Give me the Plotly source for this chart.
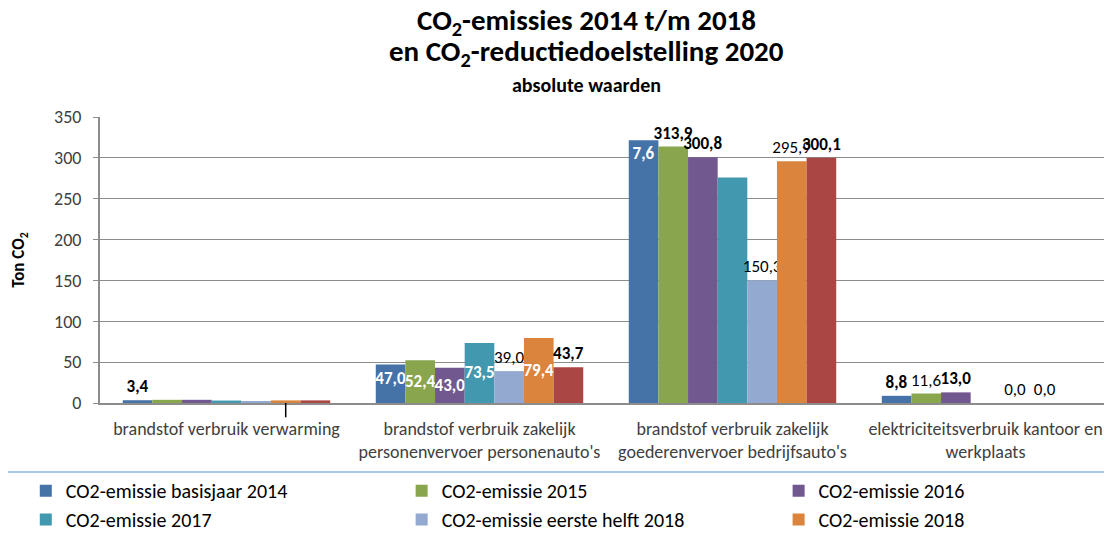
import plotly.graph_objects as go

categories = [
    "brandstof verbruik verwarming",
    "brandstof verbruik zakelijk<br>personenvervoer personenauto's",
    "brandstof verbruik zakelijk<br>goederenvervoer bedrijfsauto's",
    "elektriciteitsverbruik kantoor en<br>werkplaats",
]

series_names = [
    "CO2-emissie basisjaar 2014",
    "CO2-emissie 2015",
    "CO2-emissie 2016",
    "CO2-emissie 2017",
    "CO2-emissie eerste helft 2018",
    "CO2-emissie 2018",
    "CO2-reductiedoelstelling 2020",
]

emissie_2014 = [3.4, 47.0, 321.6, 8.8]
emissie_2015 = [3.9, 52.4, 313.9, 11.6]
emissie_2016 = [3.9, 43.0, 300.8, 13.0]
emissie_2017 = [3.0, 73.5, 276.0, None]
emissie_h1_2018 = [1.5, 39.0, 150.3, 0.0]
emissie_2018 = [3.2, 79.4, 295.9, 0.0]
doel_2020 = [3.2, 43.7, 300.1, None]

# labels as printed on the chart ("" = no label)
labels_2014 = ["3,4", "47,0", "7,6", "8,8"]
labels_2015 = ["", "52,4", "313,9", "11,6"]
labels_2016 = ["", "43,0", "300,8", "13,0"]
labels_2017 = ["", "73,5", "", ""]
labels_h1_2018 = ["", "39,0", "150,3", "0,0"]
labels_2018 = ["", "79,4", "295,9", "0,0"]
labels_2020 = ["", "43,7", "300,1", ""]

y_ticks = [0, 50, 100, 150, 200, 250, 300, 350]

values = [emissie_2014, emissie_2015, emissie_2016, emissie_2017,
          emissie_h1_2018, emissie_2018, doel_2020]
labels = [labels_2014, labels_2015, labels_2016, labels_2017,
          labels_h1_2018, labels_2018, labels_2020]

colors = ["#4572A7", "#89A54E", "#71588F", "#4198AF", "#93A9CF", "#DB843D", "#AA4643"]

# label style per point: bi = bold inside (white), bo = bold outside, no = normal outside
styles = [
    ["bo", "bi", "bi", "bo"],
    ["", "bi", "bo", "no"],
    ["", "bi", "bo", "bo"],
    ["", "bi", "", ""],
    ["", "no", "no", "no"],
    ["", "bi", "no", "no"],
    ["", "bo", "bo", ""],
]
anchors = ["end", "middle", "middle", "middle", "middle", "middle", "middle"]

FONT = "Carlito, Lato, sans-serif"

fig = go.Figure()
for i, (name, vals, labs, sty, col, anc) in enumerate(
        zip(series_names, values, labels, styles, colors, anchors)):
    text = []
    pos = []
    tcol = []
    for lab, s in zip(labs, sty):
        if s.startswith("b") and lab:
            text.append("<b>" + lab + "</b>")
        else:
            text.append(lab)
        pos.append("inside" if s == "bi" else "outside")
        tcol.append("white" if s == "bi" else "black")
    fig.add_trace(go.Bar(
        name=name,
        x=categories,
        y=vals,
        marker_color=col,
        marker_line_width=0,
        text=text,
        textposition=pos,
        textfont=dict(color=tcol, size=17, family=FONT),
        insidetextanchor=anc,
        textangle=0,
        constraintext="none",
        cliponaxis=False,
        legend="legend" if i == 0 else "legend%d" % (i + 1),
        showlegend=i < 6,
    ))

# one small legend per entry: 3 columns x 2 rows (last series is not shown)
legend_cols = [0.016, 0.354, 0.693]
legend_rows = [0.131, 0.077]
legend_layout = {}
for i in range(6):
    key = "legend" if i == 0 else "legend%d" % (i + 1)
    legend_layout[key] = dict(
        orientation="h",
        xref="container",
        yref="container",
        x=legend_cols[i % 3],
        xanchor="left",
        y=legend_rows[i // 3],
        yanchor="top",
        font=dict(size=20, color="black", family=FONT),
        bgcolor="rgba(0,0,0,0)",
        visible=True,
    )

fig.update_layout(
    width=1112,
    height=533,
    autosize=False,
    showlegend=True,
    barmode="group",
    bargap=0.18,
    bargroupgap=0,
    plot_bgcolor="white",
    paper_bgcolor="white",
    font=dict(family=FONT, color="#404040", size=18),
    margin=dict(l=89, r=8, t=109, b=138),
    **legend_layout,
)

# titles
title_lines = [
    ("<b>CO<sub>2</sub>-emissies 2014 t/m 2018</b>", 1.333, 29),
    ("<b>en CO<sub>2</sub>-reductiedoelstelling 2020</b>", 1.224, 29),
    ("<b>absolute waarden</b>", 1.112, 20),
]
for txt, ypos, size in title_lines:
    fig.add_annotation(text=txt, xref="paper", yref="paper", x=0.481, y=ypos,
                       xanchor="center", yanchor="middle", showarrow=False,
                       font=dict(size=size, color="black", family=FONT))

fig.update_yaxes(
    range=[0, 350],
    tickvals=y_ticks,
    showgrid=True,
    gridcolor="#8c8c8c",
    gridwidth=1,
    showline=True,
    linecolor="#8c8c8c",
    linewidth=2,
    ticks="outside",
    ticklen=5,
    tickcolor="#8c8c8c",
    ticklabelstandoff=8,
    tickfont=dict(size=18, color="#404040"),
    zeroline=False,
    title=dict(text="<b>Ton CO<sub>2</sub></b>", font=dict(size=17, color="black"), standoff=26),
)
fig.update_xaxes(
    showline=True,
    linecolor="#8c8c8c",
    linewidth=2,
    ticks="",
    ticklabelstandoff=8,
    tickfont=dict(size=18, color="#404040"),
)

# separator line above the legend
fig.add_shape(type="line", xref="paper", yref="paper", x0=-0.1, x1=1.01, y0=-0.241, y1=-0.241,
              line=dict(color="#8EB4E3", width=1.5))
# small stray tick under the first group
fig.add_shape(type="line", xref="x", yref="paper", x0=0.234, x1=0.234, y0=0, y1=-0.05,
              line=dict(color="black", width=1.5))

fig.write_html("out.html")
